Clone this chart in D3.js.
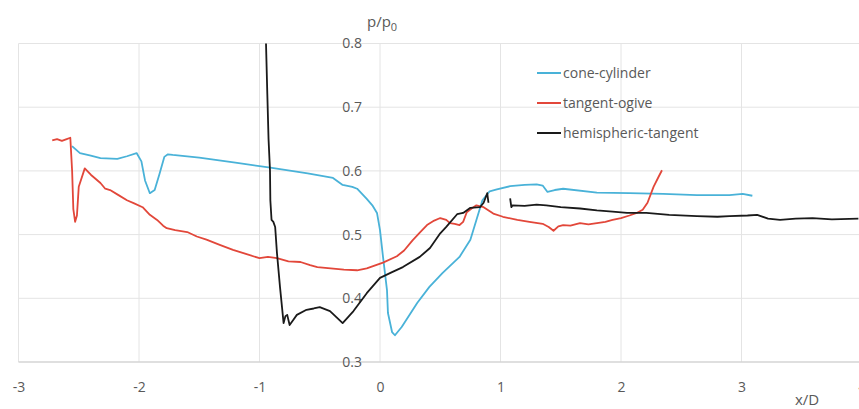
<!DOCTYPE html>
<html>
<head>
<meta charset="utf-8">
<script src="https://cdn.jsdelivr.net/npm/d3@7"></script>
<style>
  body { margin: 0; background: #fff; }
  svg text { font-family: "Open Sans", "Liberation Sans", sans-serif; fill: #595959; }
</style>
</head>
<body>
<div id="chart"></div>
<script>
// --- data: [x/D, p/p0] ---
var xTicks = [-3, -2, -1, 0, 1, 2, 3, 4];
var yTicks = [0.3, 0.4, 0.5, 0.6, 0.7, 0.8];
var seriesNames = ["cone-cylinder", "tangent-ogive", "hemispheric-tangent"];
var seriesColors = ["#49b2d8", "#e2473a", "#1a1a1a"];

var coneCylinder = [
  [-2.556, 0.639], [-2.49, 0.628], [-2.40, 0.624], [-2.32, 0.620], [-2.18, 0.619],
  [-2.10, 0.623], [-2.02, 0.628], [-1.98, 0.615], [-1.95, 0.585], [-1.91, 0.565],
  [-1.87, 0.570], [-1.83, 0.595], [-1.79, 0.622], [-1.76, 0.626], [-1.72, 0.625],
  [-1.50, 0.621], [-1.20, 0.613], [-0.91, 0.605], [-0.60, 0.596], [-0.39, 0.589],
  [-0.31, 0.578], [-0.23, 0.575], [-0.19, 0.572], [-0.11, 0.556], [-0.06, 0.545],
  [-0.025, 0.534], [0.0, 0.507], [0.025, 0.465], [0.058, 0.413], [0.066, 0.377],
  [0.10, 0.347], [0.124, 0.342], [0.18, 0.355], [0.31, 0.393], [0.41, 0.418],
  [0.52, 0.440], [0.66, 0.465], [0.75, 0.492], [0.80, 0.523], [0.85, 0.554],
  [0.91, 0.568], [0.97, 0.571], [1.08, 0.576], [1.20, 0.578], [1.30, 0.579],
  [1.35, 0.577], [1.39, 0.567], [1.45, 0.570], [1.52, 0.572], [1.80, 0.566],
  [2.07, 0.565], [2.35, 0.564], [2.63, 0.562], [2.90, 0.562], [3.01, 0.564],
  [3.09, 0.561]
];

var tangentOgive = [
  [-2.72, 0.648], [-2.68, 0.650], [-2.64, 0.647], [-2.60, 0.650], [-2.57, 0.652],
  [-2.555, 0.600], [-2.545, 0.540], [-2.53, 0.520], [-2.515, 0.530], [-2.50, 0.575],
  [-2.45, 0.604], [-2.40, 0.594], [-2.32, 0.581], [-2.28, 0.572], [-2.24, 0.570],
  [-2.17, 0.562], [-2.10, 0.554], [-2.04, 0.549], [-1.97, 0.543], [-1.91, 0.531],
  [-1.85, 0.523], [-1.80, 0.514], [-1.77, 0.510], [-1.70, 0.507], [-1.60, 0.504],
  [-1.52, 0.497], [-1.44, 0.492], [-1.33, 0.484], [-1.22, 0.476], [-1.12, 0.470],
  [-1.00, 0.463], [-0.93, 0.465], [-0.855, 0.463], [-0.76, 0.458], [-0.66, 0.457],
  [-0.58, 0.452], [-0.52, 0.449], [-0.41, 0.447], [-0.30, 0.445], [-0.19, 0.444],
  [-0.11, 0.447], [0.025, 0.456], [0.14, 0.466], [0.20, 0.475], [0.27, 0.491],
  [0.33, 0.503], [0.39, 0.515], [0.45, 0.522], [0.50, 0.526], [0.55, 0.523],
  [0.58, 0.518], [0.62, 0.517], [0.66, 0.515], [0.69, 0.520], [0.72, 0.535],
  [0.76, 0.541], [0.80, 0.546], [0.86, 0.543], [0.94, 0.533], [1.02, 0.528],
  [1.14, 0.523], [1.24, 0.520], [1.35, 0.517], [1.40, 0.512], [1.44, 0.506],
  [1.48, 0.513], [1.52, 0.515], [1.58, 0.514], [1.66, 0.518], [1.73, 0.516],
  [1.80, 0.518], [1.87, 0.520], [1.93, 0.523], [2.00, 0.526], [2.07, 0.530],
  [2.13, 0.534], [2.18, 0.539], [2.22, 0.550], [2.27, 0.575], [2.31, 0.590],
  [2.34, 0.601]
];

var hemiTangentA = [
  [-0.946, 0.800], [-0.935, 0.720], [-0.925, 0.650], [-0.913, 0.601], [-0.91, 0.554],
  [-0.90, 0.523], [-0.885, 0.520], [-0.87, 0.512], [-0.855, 0.471], [-0.83, 0.418],
  [-0.80, 0.361], [-0.785, 0.372], [-0.77, 0.374], [-0.75, 0.358], [-0.72, 0.366],
  [-0.69, 0.374], [-0.61, 0.382], [-0.55, 0.384], [-0.50, 0.386], [-0.415, 0.380],
  [-0.36, 0.370], [-0.31, 0.361], [-0.22, 0.380], [-0.11, 0.408], [0.0, 0.432],
  [0.10, 0.441], [0.19, 0.449], [0.33, 0.465], [0.415, 0.479], [0.50, 0.502],
  [0.55, 0.512], [0.64, 0.532], [0.69, 0.534], [0.75, 0.542], [0.83, 0.543],
  [0.86, 0.550], [0.89, 0.565], [0.90, 0.550]
];

var hemiTangentB = [
  [1.08, 0.557], [1.09, 0.543], [1.10, 0.546], [1.20, 0.545], [1.30, 0.547],
  [1.38, 0.546], [1.50, 0.543], [1.66, 0.541], [1.80, 0.538], [1.93, 0.536],
  [2.05, 0.534], [2.21, 0.534], [2.40, 0.531], [2.63, 0.529], [2.80, 0.528],
  [2.90, 0.529], [3.05, 0.530], [3.13, 0.531], [3.22, 0.525], [3.32, 0.523],
  [3.45, 0.525], [3.59, 0.526], [3.75, 0.524], [3.97, 0.525]
];

/*
 *** DRAWING ***
 */
var width = 859, height = 409;

var svg = d3.select("#chart")
  .append("svg")
  .attr("width", width)
  .attr("height", height);

var xScale = d3.scaleLinear().domain([-3, 4]).range([18.5, 862]);
var yScale = d3.scaleLinear().domain([0.3, 0.8]).range([362, 43.5]);

// --- gridlines ---
svg.append("g")
  .selectAll("line")
  .data(xTicks)
  .enter()
  .append("line")
  .attr("x1", function (d) { return xScale(d); })
  .attr("x2", function (d) { return xScale(d); })
  .attr("y1", yScale(0.8))
  .attr("y2", yScale(0.3))
  .attr("stroke", "#e4e4e4")
  .attr("stroke-width", 1);

svg.append("g")
  .selectAll("line")
  .data(yTicks.slice(1))
  .enter()
  .append("line")
  .attr("x1", xScale(-3))
  .attr("x2", width)
  .attr("y1", function (d) { return yScale(d); })
  .attr("y2", function (d) { return yScale(d); })
  .attr("stroke", "#e4e4e4")
  .attr("stroke-width", 1);

// x axis line at p/p0 = 0.3
svg.append("line")
  .attr("x1", xScale(-3))
  .attr("x2", width)
  .attr("y1", yScale(0.3))
  .attr("y2", yScale(0.3))
  .attr("stroke", "#d4d4d4")
  .attr("stroke-width", 1.5);

// --- tick labels (Excel style: y labels sit on the x = 0 axis) ---
// plain hyphen for negatives, like the original
var xAxis = d3.axisBottom(xScale).tickValues(xTicks).tickSize(0).tickPadding(0)
  .tickFormat(function (d) { return String(d); });
var gx = svg.append("g")
  .attr("transform", "translate(0," + 392 + ")")
  .call(xAxis);
gx.select(".domain").remove();
gx.selectAll("text")
  .attr("dy", 0)
  .style("font-size", "14px")
  .style("fill", "#595959");

var yAxis = d3.axisLeft(yScale).tickValues(yTicks).tickSize(0).tickPadding(18)
  .tickFormat(d3.format(".1f"));
var gy = svg.append("g")
  .attr("transform", "translate(" + xScale(0) + ",0)")
  .call(yAxis);
gy.select(".domain").remove();
gy.selectAll("text")
  .style("font-size", "14px")
  .style("fill", "#595959");

// axis titles
var yTitle = svg.append("text")
  .attr("x", 367)
  .attr("y", 27)
  .style("font-size", "15px");
yTitle.append("tspan").text("p/p");
yTitle.append("tspan").attr("dy", 4).style("font-size", "11px").text("0");

svg.append("text")
  .attr("x", 795)
  .attr("y", 405)
  .style("font-size", "15px")
  .text("x/D");

// --- lines ---
var line = d3.line()
  .x(function (d) { return xScale(d[0]); })
  .y(function (d) { return yScale(d[1]); });

var plotted = [
  { data: coneCylinder, color: seriesColors[0] },
  { data: tangentOgive, color: seriesColors[1] },
  { data: hemiTangentA, color: seriesColors[2] },
  { data: hemiTangentB, color: seriesColors[2] }
];

svg.append("g")
  .selectAll("path")
  .data(plotted)
  .enter()
  .append("path")
  .attr("d", function (d) { return line(d.data); })
  .attr("fill", "none")
  .attr("stroke", function (d) { return d.color; })
  .attr("stroke-width", 1.8)
  .attr("stroke-linejoin", "round");

// --- legend ---
var legend = svg.append("g")
  .selectAll("g")
  .data(seriesNames)
  .enter()
  .append("g")
  .attr("transform", function (d, i) { return "translate(537," + (73 + i * 30) + ")"; });

legend.append("line")
  .attr("x1", 0)
  .attr("x2", 24)
  .attr("stroke", function (d, i) { return seriesColors[i]; })
  .attr("stroke-width", 2);

legend.append("text")
  .attr("x", 26)
  .attr("dy", "0.35em")
  .style("font-size", "14px")
  .text(function (d) { return d; });
</script>
</body>
</html>
